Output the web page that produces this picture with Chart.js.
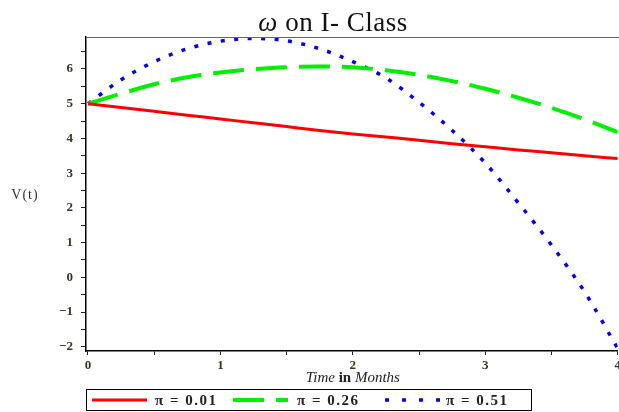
<!DOCTYPE html>
<html>
<head>
<meta charset="utf-8">
<script src="https://cdn.jsdelivr.net/npm/chart.js@4.4.1/dist/chart.umd.min.js"></script>
<style>
  html, body { margin: 0; padding: 0; background: #fff; overflow: hidden; }
  #wrap { position: relative; width: 624px; height: 412px; }
</style>
</head>
<body>
<div id="wrap"><canvas id="chart"></canvas></div>
<script>
// time in months
const months = [0, 0.25, 0.5, 0.75, 1, 1.25, 1.5, 1.75, 2, 2.25, 2.5, 2.75, 3, 3.25, 3.5, 3.75, 4];
// V(t) for each pi
const vPi001 = [5.0, 4.89, 4.78, 4.67, 4.56, 4.45, 4.34, 4.23, 4.13, 4.04, 3.95, 3.85, 3.76, 3.67, 3.59, 3.50, 3.42];
const vPi026 = [5.0, 5.29, 5.56, 5.76, 5.90, 5.99, 6.05, 6.07, 6.05, 5.96, 5.83, 5.65, 5.43, 5.17, 4.88, 4.55, 4.18];
const vPi051 = [5.0, 5.69, 6.21, 6.58, 6.80, 6.88, 6.81, 6.58, 6.21, 5.74, 5.04, 4.23, 3.29, 2.14, 0.93, -0.42, -2.05];
const seriesNames = ["π = 0.01", "π = 0.26", "π = 0.51"];
const xTickValues = [0, 1, 2, 3, 4];
const xTickLabels = ["0", "1", "2", "3", "4"];
const yTickValues = [-2, -1, 0, 1, 2, 3, 4, 5, 6];
const yTickLabels = ["−2", "−1", "0", "1", "2", "3", "4", "5", "6"];

const serif = "'Liberation Serif', 'Times New Roman', serif";
const tickColor = "#3b3222";

const pts = (ys) => months.map((t, i) => ({ x: t, y: ys[i] }));

// title, y label, x title, top frame and boxed legend
const decorations = {
  id: "decorations",
  afterDraw(chart) {
    const { ctx, chartArea: a } = chart;
    ctx.save();

    ctx.strokeStyle = "#666";
    ctx.lineWidth = 1;
    ctx.beginPath();
    ctx.moveTo(a.left, a.top + 0.5);
    ctx.lineTo(chart.width, a.top + 0.5);
    ctx.stroke();

    // title with italic omega
    ctx.fillStyle = "#111";
    ctx.textBaseline = "alphabetic";
    ctx.textAlign = "left";
    const tParts = [["italic 27px " + serif, "ω "], ["27px " + serif, "on I- Class"]];
    ctx.letterSpacing = "0.5px";
    let tw = 0;
    tParts.forEach(([f, s]) => { ctx.font = f; tw += ctx.measureText(s).width; });
    let tx = 333 - tw / 2;
    tParts.forEach(([f, s]) => { ctx.font = f; ctx.fillText(s, tx, 31); tx += ctx.measureText(s).width; });
    ctx.letterSpacing = "0px";

    ctx.fillStyle = "#333";
    ctx.font = "14px " + serif;
    ctx.letterSpacing = "1px";
    ctx.textAlign = "center";
    ctx.textBaseline = "middle";
    ctx.fillText("V(t)", 25, 195);
    ctx.letterSpacing = "0px";

    // x title: Time in Months
    const runs = [["italic 15px " + serif, "Time "], ["bold 15px " + serif, "in "], ["italic 15px " + serif, "Months"]];
    let w = 0;
    runs.forEach(([f, s]) => { ctx.font = f; w += ctx.measureText(s).width; });
    let x = chart.scales.x.getPixelForValue(2) - w / 2;
    ctx.textAlign = "left";
    ctx.fillStyle = "#222";
    runs.forEach(([f, s]) => { ctx.font = f; ctx.fillText(s, x, 378); x += ctx.measureText(s).width; });

    // legend
    ctx.strokeStyle = "#000";
    ctx.lineWidth = 1;
    ctx.strokeRect(86.5, 389.5, 445, 21);
    const sampleX = [92, 233, 385];
    const textX = [155, 297, 446];
    const ly = 400;
    chart.data.datasets.forEach((ds, i) => {
      ctx.save();
      ctx.strokeStyle = ds.borderColor;
      ctx.lineWidth = ds.borderWidth;
      ctx.setLineDash(i === 2 ? [4, 13] : (ds.borderDash || []));
      ctx.beginPath();
      ctx.moveTo(sampleX[i], ly);
      ctx.lineTo(sampleX[i] + 55, ly);
      ctx.stroke();
      ctx.restore();
      ctx.fillStyle = "#222";
      ctx.font = "bold 15px " + serif;
      ctx.letterSpacing = "1.5px";
      ctx.textBaseline = "middle";
      ctx.fillText(ds.label, textX[i], ly + 1);
      ctx.letterSpacing = "0px";
    });
    ctx.restore();
  }
};

new Chart(document.getElementById("chart"), {
  type: "line",
  data: {
    datasets: [
      { label: seriesNames[0], data: pts(vPi001), borderColor: "#ff0000", borderWidth: 3 },
      { label: seriesNames[1], data: pts(vPi026), borderColor: "#00ee00", borderWidth: 4, borderDash: [31, 12] },
      { label: seriesNames[2], data: pts(vPi051), borderColor: "#0000ee", borderWidth: 3.5, borderDash: [4, 9.5] },
    ],
  },
  options: {
    responsive: true,
    maintainAspectRatio: false,
    animation: false,
    layout: { padding: { top: 37, bottom: 25, left: 0, right: 0 } },
    elements: { point: { radius: 0 }, line: { cubicInterpolationMode: "monotone", borderCapStyle: "butt" } },
    plugins: { legend: { display: false }, title: { display: false }, tooltip: { enabled: false } },
    scales: {
      x: {
        type: "linear",
        min: -0.015,
        max: 4,
        afterFit: (s) => { s.height = 36; },
        border: { color: "#000", width: 1.5 },
        grid: { drawOnChartArea: false, tickLength: 4, tickColor: "#222" },
        ticks: {
          stepSize: 0.5,
          includeBounds: false,
          autoSkip: false,
          maxRotation: 0,
          padding: 3,
          color: tickColor,
          font: { family: serif, size: 13, weight: "bold" },
          callback: (v) => { const i = xTickValues.indexOf(v); return i >= 0 ? xTickLabels[i] : ""; },
        },
      },
      y: {
        min: -2.12,
        max: 6.92,
        afterFit: (s) => { s.width = 86; },
        border: { color: "#000", width: 1.5 },
        grid: { drawOnChartArea: false, tickLength: 5, tickColor: "#222" },
        ticks: {
          stepSize: 0.5,
          includeBounds: false,
          autoSkip: false,
          padding: 8,
          color: tickColor,
          font: { family: serif, size: 13, weight: "bold" },
          callback: (v) => { const i = yTickValues.indexOf(v); return i >= 0 ? yTickLabels[i] : ""; },
        },
      },
    },
  },
  plugins: [decorations],
});
</script>
</body>
</html>
